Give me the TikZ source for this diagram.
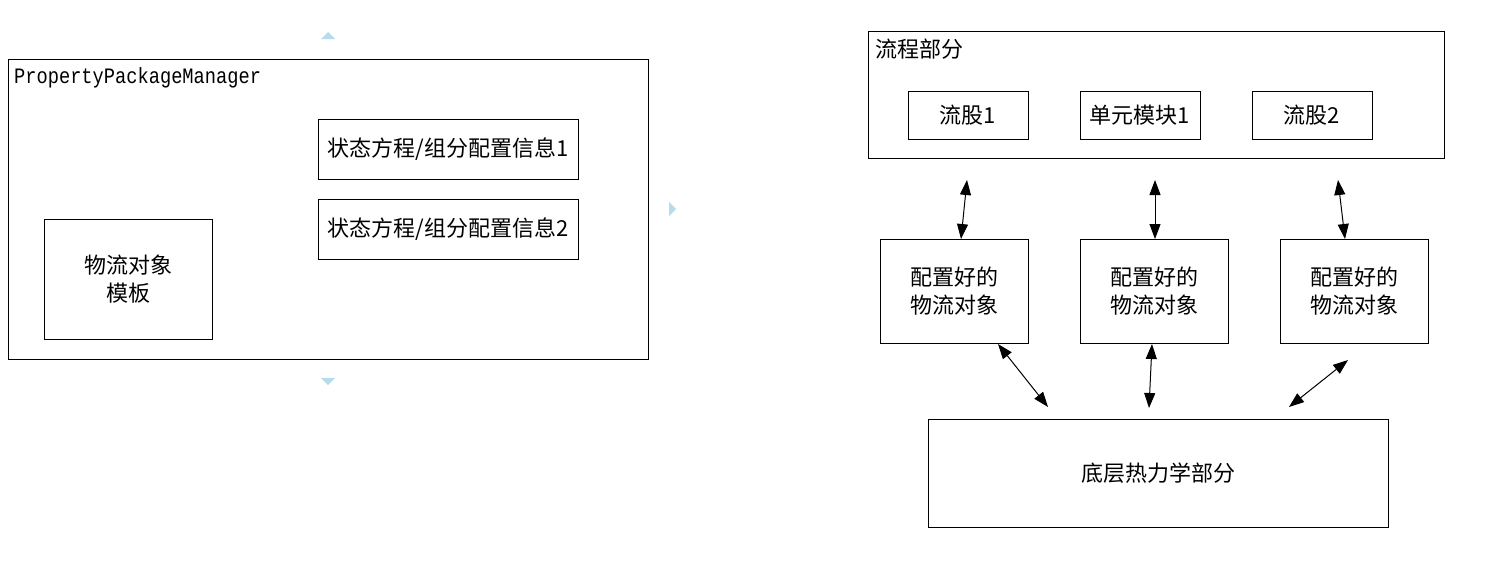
\documentclass[tikz,border=0pt]{standalone}
\usepackage{fontspec}
\setmainfont{Noto Sans CJK SC}
\newfontfamily\monof{Liberation Mono}
\usetikzlibrary{arrows.meta}
\definecolor{tri}{RGB}{182,219,236}
\begin{document}
\begin{tikzpicture}[x=1pt,y=-1pt,
  box/.style={draw, line width=1pt, inner sep=0pt, align=center, font=\fontsize{22}{28}\selectfont},
  lbl/.style={inner sep=0pt, font=\fontsize{22}{28}\selectfont},
  dblarrow/.style={{Triangle[length=15pt,width=11pt]}-{Triangle[length=15pt,width=11pt]}, line width=1pt}]
\useasboundingbox (0,0) rectangle (1503,563);
% left part
\node[box, minimum width=640pt, minimum height=300pt] (ppm) at (328,209) {};
\node[inner sep=0pt, anchor=west, xscale=0.85, font=\monof\fontsize{22}{26}\selectfont] (ppmt) at (14,78) {PropertyPackageManager};
\node[box, minimum width=260pt, minimum height=60pt] (eos1) at (448,149) {状态方程/组分配置信息1};
\node[box, minimum width=260pt, minimum height=60pt] (eos2) at (448,229) {状态方程/组分配置信息2};
\node[box, minimum width=168pt, minimum height=120pt] (tpl) at (128,279) {物流对象\\模板};
% light blue markers
\fill[tri] (321,39) -- (335,39) -- (328,32) -- cycle;
\fill[tri] (669,202) -- (669,216) -- (676,209) -- cycle;
\fill[tri] (321,378) -- (335,378) -- (328,385) -- cycle;
% right part
\node[box, minimum width=576pt, minimum height=127pt] (flow) at (1156,94.5) {};
\node[lbl, anchor=west] (flowt) at (875,49) {流程部分};
\node[box, minimum width=120pt, minimum height=48pt] (s1) at (968,115) {流股1};
\node[box, minimum width=120pt, minimum height=48pt] (u1) at (1140,115) {单元模块1};
\node[box, minimum width=120pt, minimum height=48pt] (s2) at (1312,115) {流股2};
\node[box, minimum width=148pt, minimum height=104pt] (o1) at (954,291) {配置好的\\物流对象};
\node[box, minimum width=148pt, minimum height=104pt] (o2) at (1154,291) {配置好的\\物流对象};
\node[box, minimum width=148pt, minimum height=104pt] (o3) at (1354,291) {配置好的\\物流对象};
\node[box, minimum width=460pt, minimum height=108pt] (base) at (1158,473) {底层热力学部分};
% arrow end points
\coordinate (a1t) at (967,180); \coordinate (a1b) at (961,239);
\coordinate (a2t) at (1155,180); \coordinate (a2b) at (1155,239);
\coordinate (a3t) at (1338,180); \coordinate (a3b) at (1345,239);
\coordinate (b1t) at (998,344); \coordinate (b1b) at (1048,407);
\coordinate (b2t) at (1152,344); \coordinate (b2b) at (1149,408);
\coordinate (b3t) at (1348,360); \coordinate (b3b) at (1289,407);
\draw[dblarrow] (a1t) -- (a1b);
\draw[dblarrow] (a2t) -- (a2b);
\draw[dblarrow] (a3t) -- (a3b);
\draw[dblarrow] (b1t) -- (b1b);
\draw[dblarrow] (b2t) -- (b2b);
\draw[dblarrow] (b3t) -- (b3b);
\end{tikzpicture}
\end{document}
